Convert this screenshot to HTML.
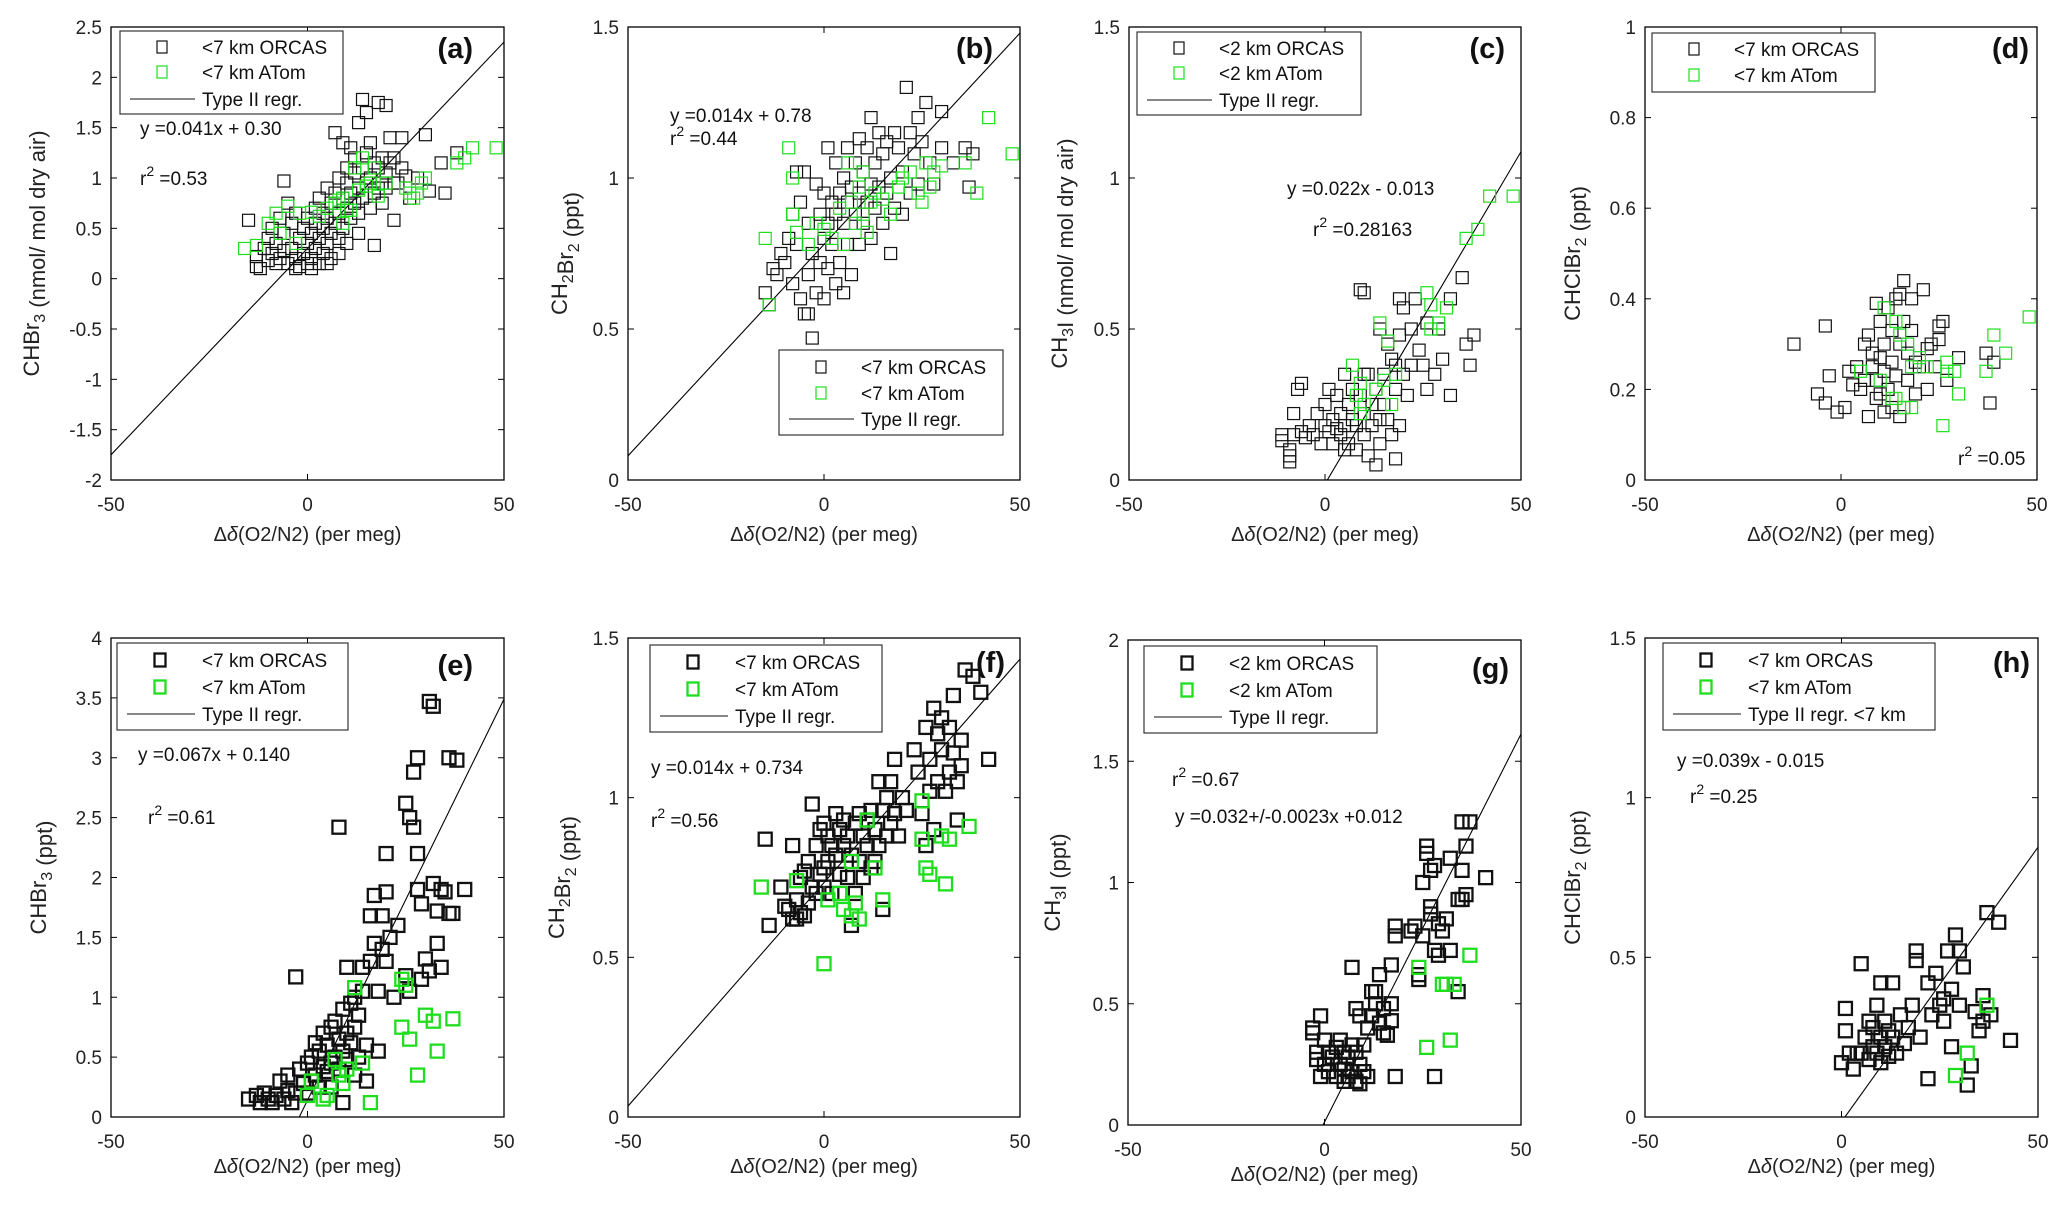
<!DOCTYPE html>
<html><head><meta charset="utf-8">
<style>
html,body{margin:0;padding:0;background:#fff;width:2061px;height:1207px;overflow:hidden;}
svg{display:block;font-family:"Liberation Sans",Arial,sans-serif;}
</style></head>
<body>
<svg id="fig" width="2061" height="1207" viewBox="0 0 2061 1207" xmlns="http://www.w3.org/2000/svg"></svg>
<script>
// ---------- data ----------
const xTicks = [-50, 0, 50];
const yTicksA = [-2,-1.5,-1,-0.5,0,0.5,1,1.5,2,2.5];
const yTicksB = [0,0.5,1,1.5];
const yTicksD = [0,0.2,0.4,0.6,0.8,1];
const yTicksE = [0,0.5,1,1.5,2,2.5,3,3.5,4];
const yTicksG = [0,0.5,1,1.5,2];
const slopes = {a:0.041,b:0.014,c:0.022,e:0.067,f:0.014,g:0.032,h:0.0172};
const intercepts = {a:0.30,b:0.78,c:-0.013,e:0.140,f:0.734,g:0.012,h:-0.015};

const aOrcas=[[-15,.58],[-13,.22],[-13,.12],[-12,.1],[-11,.3],[-10,.4],[-10,.18],[-9,.5],[-9,.25],[-8,.35],[-8,.15],[-7,.6],[-7,.2],[-6,.97],[-6,.45],[-6,.28],[-5,.75],[-5,.15],[-4,.55],[-4,.3],[-3,.2],[-3,.65],[-2,.4],[-2,.12],[-1,.25],[-1,.5],[0,.35],[0,.15],[0,.6],[1,.45],[1,.2],[2,.3],[2,.7],[2,.55],[3,.4],[3,.15],[3,.8],[4,.5],[4,.25],[4,.65],[5,.6],[5,.35],[5,.9],[6,.45],[6,.75],[6,.2],[7,1.45],[7,.55],[7,.85],[8,1.0],[8,.65],[8,.4],[9,1.35],[9,.8],[9,.5],[10,.95],[10,.7],[10,1.1],[11,1.3],[11,.85],[11,.6],[12,1.05],[12,.75],[12,1.2],[13,1.55],[13,.9],[13,.65],[14,1.78],[14,1.1],[14,.8],[15,1.65],[15,1.25],[15,.95],[16,1.35],[16,1.0],[16,.7],[17,1.15],[17,.33],[17,.85],[18,1.75],[18,1.1],[18,.9],[19,1.2],[19,.75],[20,1.72],[20,1.05],[20,.9],[21,1.4],[21,1.15],[22,.58],[22,1.2],[23,.95],[24,1.4],[24,1.1],[25,1.02],[26,.8],[28,1.0],[30,1.43],[31,.87],[34,1.15],[35,.85],[38,1.25],[22,.95],[19,.95],[13,.45],[10,.35],[8,.25],[5,.15],[1,.1],[-3,.1]];
const aAtom=[[-16,.3],[-13,.33],[-10,.55],[-8,.65],[-7,.45],[-5,.72],[-3,.35],[-2,.65],[1,.66],[3,.62],[5,.7],[7,.75],[8,.78],[9,.8],[10,.68],[11,.68],[12,1.1],[13,.88],[14,1.2],[15,.92],[16,.95],[17,1.1],[18,.82],[20,.95],[25,.9],[26,.85],[27,.8],[28,.85],[29,.95],[30,1.0],[38,1.15],[40,1.2],[42,1.3],[48,1.3],[9,.55]];
const bOrcas=[[-15,.62],[-14,.58],[-13,.7],[-12,.68],[-11,.75],[-10,.72],[-9,.8],[-8,.88],[-8,.65],[-7,1.02],[-7,.78],[-6,.92],[-6,.6],[-5,1.02],[-5,.55],[-4,.85],[-4,.68],[-4,.55],[-3,.47],[-3,.75],[-2,.98],[-2,.62],[-1,.88],[-1,.72],[0,.95],[0,.8],[0,.6],[1,1.1],[1,.85],[1,.7],[2,.92],[2,.78],[3,1.05],[3,.88],[3,.65],[4,.95],[4,.72],[5,1.0],[5,.85],[5,.62],[6,1.1],[6,.92],[6,.78],[7,.97],[7,.68],[8,1.05],[8,.88],[9,1.13],[9,.95],[9,.78],[10,1.02],[10,.85],[11,1.1],[11,.92],[12,1.2],[12,.98],[12,.8],[13,1.05],[13,.9],[14,1.15],[14,.97],[15,1.08],[15,.85],[16,1.12],[16,.95],[17,1.0],[17,.75],[18,1.15],[18,.9],[19,1.1],[20,1.02],[20,.88],[21,1.3],[22,1.15],[22,.95],[23,1.08],[24,1.2],[24,.98],[25,1.12],[26,1.25],[27,1.05],[28,.98],[30,1.22],[30,1.1],[33,1.05],[36,1.1],[37,.97],[38,1.08]];
const bAtom=[[-15,.8],[-14,.58],[-9,1.1],[-8,1.0],[-8,.88],[-7,.82],[-4,.78],[-2,.85],[0,.83],[2,.8],[4,.9],[5,.78],[6,1.05],[7,.92],[8,.85],[9,.97],[10,.88],[10,1.02],[11,.82],[12,.92],[13,.95],[15,.93],[17,.88],[19,.97],[20,1.0],[22,1.02],[24,.95],[25,.92],[26,1.05],[27,.97],[28,1.02],[30,1.04],[36,1.05],[39,.95],[42,1.2],[48,1.08]];
const cOrcas=[[-11,.15],[-11,.13],[-9,.1],[-9,.06],[-9,.08],[-8,.22],[-8,.15],[-7,.3],[-6,.32],[-6,.16],[-5,.14],[-4,.18],[-3,.15],[-2,.22],[-1,.12],[0,.25],[0,.18],[1,.3],[1,.16],[2,.2],[2,.12],[3,.28],[3,.17],[4,.22],[4,.15],[5,.35],[5,.18],[6,.25],[6,.12],[7,.3],[7,.2],[8,.1],[8,.18],[9,.63],[9,.28],[10,.62],[10,.22],[10,.15],[11,.08],[11,.35],[12,.25],[12,.18],[13,.05],[13,.3],[14,.2],[14,.12],[15,.35],[15,.25],[16,.45],[16,.2],[17,.4],[17,.15],[18,.38],[18,.3],[18,.07],[19,.6],[19,.48],[19,.18],[20,.57],[20,.35],[21,.28],[22,.5],[22,.38],[23,.6],[24,.43],[25,.38],[26,.52],[26,.3],[28,.35],[29,.5],[30,.4],[32,.6],[32,.28],[35,.67],[36,.45],[37,.38],[38,.48],[10,.35],[5,.1],[14,.5]];
const cAtom=[[7,.38],[8,.28],[9,.32],[9,.22],[10,.25],[13,.3],[14,.52],[15,.33],[16,.46],[17,.25],[18,.35],[26,.62],[27,.58],[27,.5],[29,.52],[31,.57],[36,.8],[39,.83],[42,.94],[48,.94]];
const dOrcas=[[-12,.3],[-4,.34],[-6,.19],[-3,.23],[-4,.17],[-1,.15],[1,.16],[2,.24],[3,.21],[4,.25],[5,.2],[6,.3],[6,.22],[7,.32],[7,.14],[8,.28],[8,.25],[9,.39],[9,.22],[10,.35],[10,.27],[10,.19],[11,.3],[11,.24],[12,.38],[12,.2],[13,.33],[13,.26],[14,.4],[14,.23],[15,.41],[15,.3],[16,.35],[16,.16],[16,.44],[17,.28],[17,.22],[18,.33],[18,.4],[19,.26],[19,.19],[20,.25],[21,.42],[22,.29],[22,.2],[23,.3],[24,.25],[25,.34],[25,.31],[26,.35],[27,.22],[15,.14],[13,.16],[9,.18],[11,.15],[37,.28],[38,.17],[39,.26],[30,.27]];
const dAtom=[[5,.24],[10,.22],[11,.38],[14,.35],[15,.32],[14,.18],[16,.16],[17,.3],[18,.25],[18,.16],[20,.27],[22,.25],[27,.26],[27,.24],[29,.24],[30,.19],[26,.12],[37,.24],[39,.32],[42,.28],[48,.36],[13,.18]];
const eOrcas=[[-15,.15],[-13,.18],[-12,.12],[-11,.2],[-10,.15],[-9,.12],[-8,.18],[-7,.3],[-6,.15],[-5,.22],[-5,.35],[-4,.12],[-3,.2],[-3,1.17],[-2,.4],[-1,.28],[0,.45],[0,.2],[1,.5],[1,.3],[2,.62],[2,.35],[3,.55],[3,.25],[4,.7],[4,.42],[5,.6],[5,.38],[6,.75],[6,.45],[6,.25],[7,.8],[7,.5],[8,2.42],[8,.65],[8,.4],[9,.9],[9,.55],[9,.12],[10,1.25],[10,.7],[10,.48],[11,.95],[11,.62],[12,1.0],[12,.75],[12,.35],[13,.85],[13,.5],[14,1.05],[14,1.25],[15,.6],[15,.3],[16,1.68],[16,1.3],[17,1.85],[17,1.45],[18,1.05],[18,.55],[19,1.68],[19,1.4],[20,2.2],[20,1.88],[20,1.3],[21,1.5],[22,1.0],[25,2.62],[25,1.18],[26,2.5],[26,1.05],[27,2.88],[27,2.42],[28,2.2],[28,1.9],[28,3.0],[29,1.78],[30,1.32],[31,3.47],[32,3.43],[31,1.22],[32,1.95],[33,1.45],[34,1.9],[33,1.72],[35,1.88],[36,3.0],[36,1.7],[37,1.7],[38,2.98],[40,1.9],[34,1.25],[29,1.15],[23,1.6]];
const eAtom=[[0,.18],[1,.3],[4,.15],[5,.18],[7,.48],[8,.35],[9,.28],[10,.4],[12,1.08],[14,.45],[16,.12],[24,1.15],[24,.75],[26,.65],[28,.35],[30,.85],[32,.8],[33,.55],[37,.82],[25,1.1]];
const fOrcas=[[-15,.87],[-14,.6],[-11,.72],[-10,.66],[-9,.65],[-8,.62],[-8,.85],[-7,.68],[-7,.62],[-6,.64],[-6,.75],[-5,.63],[-5,.77],[-4,.8],[-4,.67],[-3,.72],[-3,.98],[-2,.85],[-2,.7],[-1,.76],[-1,.9],[0,.92],[0,.78],[0,.72],[1,.88],[1,.8],[2,.85],[2,.7],[3,.95],[3,.82],[4,.9],[4,.76],[5,.85],[5,.93],[6,.88],[6,.75],[7,.6],[7,.82],[8,.92],[8,.7],[9,.8],[9,.95],[10,.88],[10,.75],[11,.93],[11,.85],[12,.96],[12,.78],[13,.9],[13,.8],[14,1.05],[14,.85],[15,.96],[15,.65],[16,1.0],[16,.88],[17,1.05],[17,.92],[18,1.12],[18,.95],[19,.88],[20,1.0],[21,.96],[23,1.15],[24,1.08],[25,.95],[26,1.22],[26,.85],[27,1.12],[27,1.02],[28,1.28],[28,.9],[29,1.05],[30,1.25],[30,1.15],[31,1.02],[32,1.22],[32,1.08],[33,1.14],[34,.93],[34,1.05],[35,1.18],[35,1.1],[36,1.4],[38,1.38],[40,1.33],[42,1.12],[33,1.32],[29,1.2]];
const fAtom=[[-16,.72],[-7,.74],[0,.48],[1,.68],[4,.7],[5,.65],[7,.8],[7,.63],[8,.67],[9,.62],[11,.93],[13,.78],[15,.68],[25,.87],[25,.99],[26,.78],[27,.76],[30,.88],[31,.73],[32,.87],[37,.91]];
const gOrcas=[[-3,.4],[-3,.38],[-2,.3],[-2,.27],[-1,.45],[-1,.2],[0,.35],[0,.25],[1,.3],[1,.22],[2,.28],[3,.2],[3,.32],[4,.25],[4,.35],[5,.18],[5,.23],[5,.3],[6,.28],[6,.2],[7,.33],[7,.22],[7,.65],[8,.18],[8,.3],[8,.48],[9,.25],[9,.45],[9,.17],[10,.22],[10,.33],[11,.4],[11,.2],[12,.55],[12,.45],[13,.55],[13,.5],[14,.62],[14,.42],[15,.48],[15,.38],[16,.37],[17,.66],[17,.43],[17,.5],[18,.82],[18,.78],[18,.2],[22,.8],[23,.82],[24,.62],[25,.78],[25,1.0],[26,1.12],[26,1.15],[27,1.05],[27,.87],[27,.9],[28,1.07],[28,.72],[29,.7],[29,.83],[30,.8],[31,.85],[32,.72],[32,1.1],[34,.93],[35,.93],[35,1.25],[35,1.05],[36,1.15],[36,.95],[37,1.25],[41,1.02],[34,.55],[28,.2],[24,.6]];
const gAtom=[[24,.65],[26,.32],[30,.58],[31,.58],[32,.35],[33,.58],[37,.7]];
const hOrcas=[[0,.17],[1,.27],[1,.34],[2,.2],[3,.15],[4,.2],[5,.48],[5,.2],[6,.25],[7,.3],[7,.18],[8,.22],[8,.28],[9,.35],[9,.2],[10,.25],[10,.42],[10,.17],[11,.3],[11,.22],[12,.27],[12,.19],[13,.42],[13,.25],[14,.2],[15,.32],[16,.23],[17,.28],[18,.35],[19,.52],[19,.49],[20,.25],[22,.42],[23,.32],[24,.45],[25,.35],[26,.37],[26,.3],[27,.52],[28,.4],[28,.22],[29,.57],[30,.52],[30,.35],[31,.47],[32,.1],[33,.16],[34,.33],[35,.27],[36,.38],[36,.3],[37,.64],[38,.32],[40,.61],[43,.24],[22,.12]];
const hAtom=[[29,.13],[32,.2],[37,.35]];

// ---------- layout ----------
const NS="http://www.w3.org/2000/svg";
const svg=document.getElementById('fig');
const GREEN="#1ede1e";
function mk(tag,attrs,parent){const e=document.createElementNS(NS,tag);for(const k in attrs)e.setAttribute(k,attrs[k]);(parent||svg).appendChild(e);return e;}

const panels=[
 {id:'a',L:111,R:504,T:27,B:480,ymin:-2,ymax:2.5,yt:yTicksA,orc:aOrcas,atm:aAtom,big:false,
  yl:['CHBr','3',' (nmol/ mol dry air)'],ylx:32,
  leg:{x:120,y:31,w:223,h:83,rows:[16,41,68],mx:42,tx:82,l1:10,l2:75,labels:['<7 km ORCAS','<7 km ATom','Type II regr.']},
  ann:[['eq','y =0.041x + 0.30',140,135],['r2','=0.53',140,185]],pl:'(a)',plx:473,ply:58},
 {id:'b',L:628,R:1020,T:27,B:480,ymin:0,ymax:1.5,yt:yTicksB,orc:bOrcas,atm:bAtom,big:false,
  yl:['CH','2','Br','2',' (ppt)'],ylx:560,
  leg:{x:779,y:350,w:224,h:85,rows:[17,43,69],mx:42,tx:82,l1:10,l2:75,labels:['<7 km ORCAS','<7 km ATom','Type II regr.']},
  ann:[['eq','y =0.014x + 0.78',670,122],['r2','=0.44',670,145]],pl:'(b)',plx:993,ply:58},
 {id:'c',L:1129,R:1521,T:27,B:480,ymin:0,ymax:1.5,yt:yTicksB,orc:cOrcas,atm:cAtom,big:false,
  yl:['CH','3','I (nmol/ mol dry air)'],ylx:1060,
  leg:{x:1137,y:32,w:224,h:83,rows:[16,41,68],mx:42,tx:82,l1:10,l2:75,labels:['<2 km ORCAS','<2 km ATom','Type II regr.']},
  ann:[['eq','y =0.022x - 0.013',1287,195],['r2','=0.28163',1313,236]],pl:'(c)',plx:1505,ply:58},
 {id:'d',L:1645,R:2037,T:27,B:480,ymin:0,ymax:1,yt:yTicksD,orc:dOrcas,atm:dAtom,big:false,
  yl:['CHClBr','2',' (ppt)'],ylx:1573,
  leg:{x:1652,y:33,w:223,h:59,rows:[16,42],mx:42,tx:82,l1:10,l2:75,labels:['<7 km ORCAS','<7 km ATom']},
  ann:[['r2','=0.05',1958,465]],pl:'(d)',plx:2029,ply:58},
 {id:'e',L:111,R:504,T:638,B:1117,ymin:0,ymax:4,yt:yTicksE,orc:eOrcas,atm:eAtom,big:true,
  yl:['CHBr','3',' (ppt)'],ylx:39,
  leg:{x:117,y:643,w:231,h:87,rows:[17,44,71],mx:43,tx:85,l1:10,l2:78,labels:['<7 km ORCAS','<7 km ATom','Type II regr.']},
  ann:[['eq','y =0.067x + 0.140',138,761],['r2','=0.61',148,824]],pl:'(e)',plx:473,ply:675},
 {id:'f',L:628,R:1020,T:638,B:1117,ymin:0,ymax:1.5,yt:yTicksB,orc:fOrcas,atm:fAtom,big:true,
  yl:['CH','2','Br','2',' (ppt)'],ylx:557,
  leg:{x:650,y:645,w:232,h:87,rows:[17,44,71],mx:43,tx:85,l1:10,l2:78,labels:['<7 km ORCAS','<7 km ATom','Type II regr.']},
  ann:[['eq','y =0.014x + 0.734',651,774],['r2','=0.56',651,827]],pl:'(f)',plx:1005,ply:672},
 {id:'g',L:1128,R:1521,T:640,B:1125,ymin:0,ymax:2,yt:yTicksG,orc:gOrcas,atm:gAtom,big:true,
  yl:['CH','3','I (ppt)'],ylx:1053,
  leg:{x:1144,y:646,w:233,h:87,rows:[17,44,71],mx:43,tx:85,l1:10,l2:78,labels:['<2 km ORCAS','<2 km ATom','Type II regr.']},
  ann:[['r2','=0.67',1172,786],['eq','y =0.032+/-0.0023x +0.012',1175,823]],pl:'(g)',plx:1509,ply:678},
 {id:'h',L:1645,R:2038,T:638,B:1117,ymin:0,ymax:1.5,yt:yTicksB,orc:hOrcas,atm:hAtom,big:true,
  yl:['CHClBr','2',' (ppt)'],ylx:1573,
  leg:{x:1663,y:643,w:272,h:87,rows:[17,44,71],mx:43,tx:85,l1:10,l2:78,labels:['<7 km ORCAS','<7 km ATom','Type II regr. <7 km']},
  ann:[['eq','y =0.039x - 0.015',1677,767],['r2','=0.25',1690,803]],pl:'(h)',plx:2030,ply:672}
];

function fmt(v){return String(Math.round(v*10)/10);}

panels.forEach(p=>{
  const g=mk('g',{});
  
  
  const X=v=>p.L+(v-(-50))/(100)*(p.R-p.L);
  const Y=v=>p.B-(v-p.ymin)/(p.ymax-p.ymin)*(p.B-p.T);
  const cid='clip'+p.id;
  const cp=mk('clipPath',{id:cid},g);mk('rect',{x:p.L,y:p.T,width:p.R-p.L,height:p.B-p.T},cp);
  const fr=mk('rect',{x:p.L,y:p.T,width:p.R-p.L,height:p.B-p.T,fill:'none',stroke:'#000','stroke-width':1.3},g);
  
  
  p.yt.forEach(t=>{
    const y=Y(t);
    mk('line',{x1:p.L,x2:p.L+6,y1:y,y2:y,stroke:'#000','stroke-width':1},g);
    mk('line',{x1:p.R,x2:p.R-6,y1:y,y2:y,stroke:'#000','stroke-width':1},g);
    const tl=mk('text',{x:p.L-9,y:y+7,'font-size':19,'text-anchor':'end',fill:'#222'},g);
    tl.textContent=fmt(t);
    
    
  });
  xTicks.forEach(t=>{
    const x=X(t);
    mk('line',{x1:x,x2:x,y1:p.B,y2:p.B-6,stroke:'#000','stroke-width':1},g);
    mk('line',{x1:x,x2:x,y1:p.T,y2:p.T+6,stroke:'#000','stroke-width':1},g);
    const tl=mk('text',{x:x,y:p.B+31,'font-size':19,'text-anchor':'middle',fill:'#222'},g);
    tl.textContent=String(t);
    
    
  });
  const xl=mk('text',{x:(p.L+p.R)/2,y:p.B+(p.big?56:61),'font-size':20,'text-anchor':'middle',fill:'#222'},g);
  xl.innerHTML='Δ<tspan font-style="italic">δ</tspan>(O2/N2) (per meg)';
  
  
  const cy=(p.T+p.B)/2;
  const yl=mk('text',{x:p.ylx+7,y:cy,'font-size':22,'text-anchor':'middle',fill:'#222',transform:'rotate(-90 '+(p.ylx+7)+' '+cy+')'},g);
  let html='';
  p.yl.forEach((s,i)=>{ if(i%2===0) html+='<tspan>'+s.replace(/</g,'&lt;')+'</tspan>'; else html+='<tspan dy="6" font-size="16">'+s+'</tspan><tspan dy="-6"></tspan>'; });
  yl.innerHTML=html;
  
  
  if(slopes[p.id]!==undefined){
    const m=slopes[p.id],b=intercepts[p.id];
    const ln=mk('line',{x1:X(-50),y1:Y(m*-50+b),x2:X(50),y2:Y(m*50+b),stroke:'#000','stroke-width':1.1,'clip-path':'url(#'+cid+')'},g);
    
    
  }
  const s=p.big?13:12, sw=p.big?2.3:1.2;
  const drawSeries=(arr,col,name)=>{
    arr.forEach(pt=>{
      const r=mk('rect',{x:X(pt[0])-s/2,y:Y(pt[1])-s/2,width:s,height:s,fill:'none',stroke:col,'stroke-width':sw,'clip-path':'url(#'+cid+')'},g);
      
      
    });
  };
  drawSeries(p.orc,'#111','orcas-point');
  drawSeries(p.atm,GREEN,'atom-point');
  const lg=p.leg;
  const lgG=mk('g',{},g);
  
  
  mk('rect',{x:lg.x,y:lg.y,width:lg.w,height:lg.h,fill:'#fff',stroke:'#222','stroke-width':1.1},lgG);
  lg.labels.forEach((lab,i)=>{
    const yy=lg.y+lg.rows[i];
    if(i<2){
      const mkr=mk('rect',{x:lg.x+lg.mx-s/2+1,y:yy-s/2,width:s-2,height:s,fill:'none',stroke:i===0?'#111':GREEN,'stroke-width':sw},lgG);
      
      
    } else {
      mk('line',{x1:lg.x+lg.l1,x2:lg.x+lg.l2,y1:yy,y2:yy,stroke:'#111','stroke-width':1.1},lgG);
    }
    const t=mk('text',{x:lg.x+lg.tx,y:yy+7,'font-size':19,fill:'#111'},lgG);
    t.textContent=lab;
    
    
  });
  p.ann.forEach(a=>{
    const t=mk('text',{x:a[2],y:a[3],'font-size':19,fill:'#111'},g);
    if(a[0]==='eq') t.textContent=a[1];
    else t.innerHTML='r<tspan dy="-9" font-size="14">2</tspan><tspan dy="9"> '+a[1]+'</tspan>';
    
    
  });
  const pl=mk('text',{x:p.plx,y:p.ply,'font-size':29,'font-weight':'bold','text-anchor':'end',fill:'#111'},g);
  pl.textContent=p.pl;
  
  
});
</script>
</body></html>
